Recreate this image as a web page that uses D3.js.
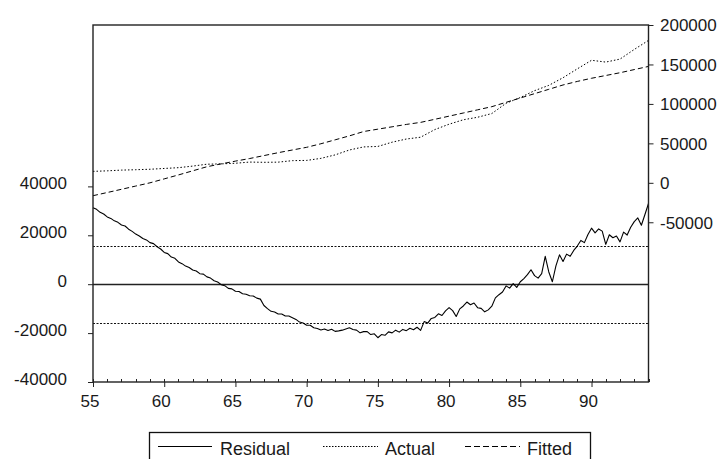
<!DOCTYPE html>
<html>
<head>
<meta charset="utf-8">
<script src="https://cdn.jsdelivr.net/npm/d3@7"></script>
<style>
  body { margin: 0; background: #fff; }
  svg { display: block; }
  text { font-family: "Liberation Sans", Arial, sans-serif; fill: #1a1a1a; }
</style>
</head>
<body>
<svg id="chart" width="717" height="459"></svg>
<script>
// Annual observations (two-digit years) for the actual and fitted series
const years = [55,56,57,58,59,60,61,62,63,64,65,66,67,68,69,70,71,72,73,74,
               75,76,77,78,79,80,81,82,83,84,85,86,87,88,89,90,91,92,93,94];
const actual = [14500,15200,16100,16600,17200,18200,19200,21200,23600,24000,
                24800,26300,26000,26200,28100,28400,31000,35400,41600,45500,
                46100,51500,55500,57800,67500,74300,79900,83100,87800,100800,
                108100,116800,123500,133200,144400,155300,153000,156800,169000,180500];
const fitted = [-16300,-12300,-8200,-4100,0,5000,10000,15200,20400,24000,
                27500,30800,34500,38200,41600,45000,49500,54500,59500,65000,
                68000,71000,74000,76600,80500,84500,88500,92500,96500,102000,
                107500,113000,118500,124000,128500,132500,136000,139500,143500,147500];

// Quarterly residuals, 1955Q1 .. 1994Q1
const residual = [
  31300,30600,29400,28700,27500,
  26900,25900,25300,24200,
  23800,22500,21600,20500,
  19700,18700,18100,17000,
  16600,15300,14400,13000,
  12500,11100,10600,9100,
  8400,7400,6800,5800,
  5400,4300,4100,3000,
  2500,1400,900,-200,
  -600,-1700,-1900,-2900,
  -3000,-3900,-4100,-4700,
  -4800,-5700,-6100,-8700,
  -10000,-11100,-11400,-12200,
  -12200,-13000,-13000,-13700,
  -14400,-15500,-15900,-16800,
  -16800,-17800,-18100,-18700,
  -18300,-18900,-18400,-19300,
  -19100,-18800,-18300,-17800,
  -18500,-18800,-19900,-19400,
  -19400,-20600,-20300,-21900,
  -20600,-20900,-19500,-19900,
  -18800,-19600,-18500,-19000,
  -18000,-18600,-17600,-18900,
  -15300,-15900,-14000,-13600,
  -12100,-12800,-10900,-9600,
  -10800,-13200,-10100,-8900,
  -7300,-8400,-7700,-9600,
  -9900,-11300,-10500,-9000,
  -5600,-4300,-3200,-700,
  -1600,200,-1300,1000,
  2300,3900,5900,3500,
  2500,4300,11400,5000,
  1000,7500,12000,9300,
  12300,11400,13800,15600,
  17900,17000,20300,22900,
  21000,22600,21700,16300,
  20200,19000,19700,17300,
  21300,20100,23300,25600,
  27100,24100,28500,33000
];
const seBand = 15800;

const leftTicks = [-40000, -20000, 0, 20000, 40000];
const rightTicks = [-50000, 0, 50000, 100000, 150000, 200000];
const xTicks = [55, 60, 65, 70, 75, 80, 85, 90];
const legendItems = ["Residual", "Actual", "Fitted"];

const svg = d3.select("#chart");
const plot = { left: 93, right: 648.5, top: 25, bottom: 382 };

const x = d3.scaleLinear().domain([55, 94]).range([plot.left, plot.right]);
const yL = d3.scaleLinear().domain([-40000, 106000]).range([plot.bottom, plot.top]);
const yR = d3.scaleLinear().domain([-252400, 200000]).range([plot.bottom, plot.top]);

const plain = d => String(d);   // keeps an ASCII hyphen for negatives

const styles = {
  Residual: { dash: null, legendDash: null, width: 1.1 },
  Actual:   { dash: "1.5,2", legendDash: "1.5,1.5", width: 1 },
  Fitted:   { dash: "5,3", legendDash: "6,3", width: 1 }
};

// Reference lines: zero and the +/- one standard error band
svg.append("line")
  .attr("x1", plot.left).attr("x2", plot.right)
  .attr("y1", Math.round(yL(0)) + 0.5).attr("y2", Math.round(yL(0)) + 0.5)
  .attr("stroke", "#222").attr("stroke-width", 1.4);
[seBand, -seBand].forEach(v => {
  svg.append("line")
    .attr("x1", plot.left).attr("x2", plot.right)
    .attr("y1", Math.round(yL(v)) + 0.5).attr("y2", Math.round(yL(v)) + 0.5)
    .attr("stroke", "#111").attr("stroke-width", 1)
    .attr("stroke-dasharray", "2,1.5");
});

// Actual and fitted on the right-hand scale
const lineR = d3.line().x((d, i) => x(years[i])).y(d => yR(d));
svg.append("path").datum(actual)
  .attr("d", lineR).attr("fill", "none").attr("stroke", "#000")
  .attr("stroke-width", styles.Actual.width).attr("stroke-dasharray", styles.Actual.dash);
svg.append("path").datum(fitted)
  .attr("d", lineR).attr("fill", "none").attr("stroke", "#000")
  .attr("stroke-width", styles.Fitted.width).attr("stroke-dasharray", styles.Fitted.dash);

// Residual on the left-hand scale
const lineL = d3.line().x((d, i) => x(55 + i / 4)).y(d => yL(d));
svg.append("path").datum(residual)
  .attr("d", lineL).attr("fill", "none").attr("stroke", "#000")
  .attr("stroke-width", styles.Residual.width).attr("stroke-linejoin", "round");

// Frame
svg.append("rect")
  .attr("x", plot.left).attr("y", plot.top)
  .attr("width", plot.right - plot.left).attr("height", plot.bottom - plot.top)
  .attr("fill", "none").attr("stroke", "#222").attr("stroke-width", 1.4);

// Left axis
const axL = svg.append("g").attr("transform", `translate(${plot.left},0)`)
  .call(d3.axisLeft(yL).tickValues(leftTicks).tickSize(5).tickPadding(21).tickFormat(plain));
axL.select(".domain").remove();
axL.selectAll("line").attr("stroke", "#222");
axL.selectAll("text").attr("font-size", 17).attr("dy", "0.14em")
  .style("font-family", "'Liberation Sans', Arial, sans-serif").attr("fill", "#1a1a1a");

// Right axis
const axR = svg.append("g").attr("transform", `translate(${plot.right},0)`)
  .call(d3.axisRight(yR).tickValues(rightTicks).tickSize(5).tickPadding(6.5).tickFormat(plain));
axR.select(".domain").remove();
axR.selectAll("line").attr("stroke", "#222");
axR.selectAll("text").attr("font-size", 17).attr("dy", "0.34em")
  .style("font-family", "'Liberation Sans', Arial, sans-serif").attr("fill", "#1a1a1a");

// Bottom axis: yearly minor ticks inside, major ticks every five years
svg.append("g").selectAll("line").data(years).join("line")
  .attr("x1", d => Math.round(x(d)) + 0.5).attr("x2", d => Math.round(x(d)) + 0.5)
  .attr("y1", plot.bottom - 3).attr("y2", plot.bottom)
  .attr("stroke", "#222");
const axB = svg.append("g").attr("transform", `translate(0,${plot.bottom})`)
  .call(d3.axisBottom(x).tickValues(xTicks).tickSize(5).tickPadding(8).tickFormat(plain));
axB.select(".domain").remove();
axB.selectAll("line").attr("stroke", "#222");
axB.selectAll("text").attr("font-size", 17).attr("dx", "-3.5")
  .style("font-family", "'Liberation Sans', Arial, sans-serif").attr("fill", "#1a1a1a");

// Legend
const legend = svg.append("g");
legend.append("rect")
  .attr("x", 149.5).attr("y", 432.5).attr("width", 441).attr("height", 40)
  .attr("fill", "#fff").attr("stroke", "#111").attr("stroke-width", 1.3);
const legendPos = [
  { x1: 158, x2: 212, tx: 220 },
  { x1: 323, x2: 378, tx: 385 },
  { x1: 465, x2: 520, tx: 527 }
];
legendItems.forEach((name, i) => {
  const p = legendPos[i];
  legend.append("line")
    .attr("x1", p.x1).attr("x2", p.x2).attr("y1", 446.5).attr("y2", 446.5)
    .attr("stroke", "#000").attr("stroke-width", 1)
    .attr("stroke-dasharray", styles[name].legendDash);
  legend.append("text")
    .attr("x", p.tx).attr("y", 455)
    .attr("font-size", 18).text(name);
});
</script>
</body>
</html>
